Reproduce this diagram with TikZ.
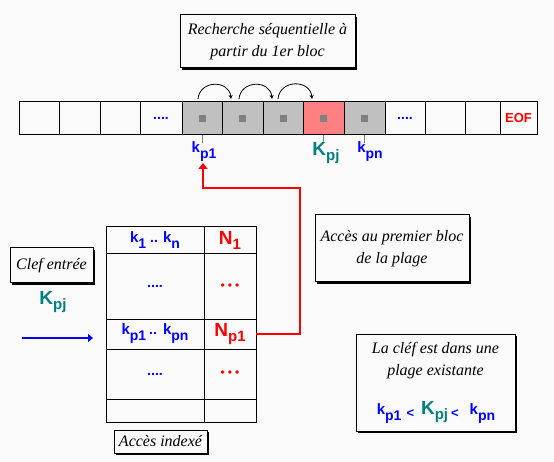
\documentclass[tikz,border=0pt]{standalone}
\usepackage{fontspec}
\setmainfont{Liberation Serif}
\newfontfamily\lbsans{Liberation Sans}
\usetikzlibrary{arrows.meta,shadows}
\definecolor{bg}{HTML}{FAFAFA}
\definecolor{cellgrey}{HTML}{C0C0C0}
\definecolor{dotgrey}{HTML}{808080}
\definecolor{salmon}{HTML}{FF8080}
\definecolor{kblue}{HTML}{0000FF}
\definecolor{kteal}{HTML}{008080}
\definecolor{kred}{HTML}{FF0000}
\newcommand{\kk}[2]{{\lbsans\bfseries\fontsize{15}{15}\selectfont #1\raisebox{-6pt}{\fontsize{14}{14}\selectfont #2}}}
\newcommand{\KK}[2]{{\lbsans\bfseries\fontsize{19}{19}\selectfont #1\raisebox{-5pt}{\fontsize{15}{15}\selectfont #2}}}
\newcommand{\dd}[1]{\lbsans\bfseries\fontsize{#1}{#1}\selectfont}
\newcommand{\lt}{\raisebox{-3pt}{\lbsans\bfseries\fontsize{13}{13}\selectfont <}}
\newcommand{\rdots}{{\lbsans\fontsize{12}{12}\selectfont •\hspace{3pt}•\hspace{3pt}•}}
\tikzset{
  cell/.style={draw, line width=1pt, minimum height=33pt, inner sep=0pt, outer sep=0pt},
  tcell/.style={draw, line width=1pt, inner sep=0pt, outer sep=0pt},
  sqmark/.style={fill=dotgrey, minimum size=7pt, inner sep=0pt},
  tick/.style={draw=dotgrey, line width=1pt},
  scripttext/.style={font=\itshape\fontsize{16}{22}\selectfont},
  shbox/.style={draw, line width=1pt, fill=bg, inner sep=2pt, align=center, scripttext,
    drop shadow={shadow xshift=2pt, shadow yshift=-2pt, fill=black, opacity=1}},
  hop/.style={line width=0.8pt, -{Stealth[length=4pt,width=4pt]}},
  redarrow/.style={draw=kred, line width=2.5pt, -{Triangle[length=6pt,width=9pt]}},
  bluearrow/.style={draw=kblue, line width=2.5pt, -{Triangle[length=5pt,width=8pt]}},
}
\begin{document}
\begin{tikzpicture}[x=1pt,y=-1pt]
\fill[bg] (0,0) rectangle (554,462);
\useasboundingbox (0,0) rectangle (554,462);
% strip of blocks
\node[cell, minimum width=40pt] (c1) at (39,118.5) {};
\node[cell, minimum width=41pt] (c2) at (79.5,118.5) {};
\node[cell, minimum width=40pt] (c3) at (120,118.5) {};
\node[cell, minimum width=42pt, text=kblue, font=\lbsans\bfseries\fontsize{14}{14}\selectfont] (c4) at (161,118.5) {....};
\node[cell, minimum width=40pt, fill=cellgrey] (c5) at (202,118.5) {};
\node[cell, minimum width=41pt, fill=cellgrey] (c6) at (242.5,118.5) {};
\node[cell, minimum width=40pt, fill=cellgrey] (c7) at (283,118.5) {};
\node[cell, minimum width=41pt, fill=salmon] (c8) at (323.5,118.5) {};
\node[cell, minimum width=41pt, fill=cellgrey] (c9) at (364.5,118.5) {};
\node[cell, minimum width=40pt, text=kblue, font=\lbsans\bfseries\fontsize{14}{14}\selectfont] (c10) at (405,118.5) {....};
\node[cell, minimum width=40pt] (c11) at (445,118.5) {};
\node[cell, minimum width=35pt] (c12) at (482.5,118.5) {};
\node[cell, minimum width=37pt, text=kred, font=\lbsans\bfseries\fontsize{13}{13}\selectfont] (c13) at (518.5,118.5) {EOF};
\foreach \c in {c5,c6,c7,c8,c9} \node[sqmark] at (\c) {};
% ticks
\foreach \c in {c5,c8,c9} \draw[tick] (\c.south) -- ++(0,8);
% labels under strip
\node[text=kblue, inner sep=0pt] (lkp1) at (204,152) {\kk{k}{p1}};
\node[text=kteal, inner sep=0pt] (lKpj) at (326,153) {\KK{K}{pj}};
\node[text=kblue, inner sep=0pt] (lkpn) at (370,152) {\kk{k}{pn}};
% hops
\coordinate (h1a) at (198,99); \coordinate (h1b) at (231,99);
\coordinate (h2a) at (239,99); \coordinate (h2b) at (272,99);
\coordinate (h3a) at (278,99); \coordinate (h3b) at (312,99);
\draw[hop] (h1a) to[out=85,in=95,looseness=1.5] (h1b);
\draw[hop] (h2a) to[out=85,in=95,looseness=1.5] (h2b);
\draw[hop] (h3a) to[out=85,in=95,looseness=1.5] (h3b);
% top box
\node[shbox, minimum width=175pt, minimum height=53pt] (top) at (267.5,41.5)
  {Recherche séquentielle à\\partir du 1er bloc};
% table
\node[tcell, minimum width=98pt, minimum height=27pt, text=kblue] (t11) at (155,240.5) {\kk{k}{1}\hspace{4pt}{\dd{14}..}\hspace{5pt}\kk{k}{n}};
\node[tcell, minimum width=52pt, minimum height=27pt, text=kred] (t12) at (230,240.5) {\KK{N}{1}};
\node[tcell, minimum width=98pt, minimum height=65pt, text=kblue] (t21) at (155,286.5) {{\dd{14}....}};
\node[tcell, minimum width=52pt, minimum height=65pt, text=kred] (t22) at (230,286.5) {\rdots};
\node[tcell, minimum width=98pt, minimum height=30pt, text=kblue] (t31) at (155,334) {\kk{k}{p1}\hspace{3pt}{\dd{14}..}\hspace{6pt}\kk{k}{pn}};
\node[tcell, minimum width=52pt, minimum height=30pt, text=kred] (t32) at (230,334) {\KK{N}{p1}};
\node[tcell, minimum width=98pt, minimum height=50pt, text=kblue] (t41) at (155,374) {{\dd{14}....}};
\node[tcell, minimum width=52pt, minimum height=50pt, text=kred] (t42) at (230,374) {\rdots};
\node[tcell, minimum width=98pt, minimum height=23pt] (t51) at (155,410.5) {};
\node[tcell, minimum width=52pt, minimum height=23pt] (t52) at (230,410.5) {};
% left side
\node[shbox, minimum width=83pt, minimum height=35pt] (clef) at (51.5,265.5) {Clef entrée};
\node[text=kteal, inner sep=0pt] (kin) at (53,302) {\KK{K}{pj}};
\coordinate (ina) at (22,338); \coordinate (inb) at (93,338);
\draw[bluearrow] (ina) -- (inb);
\node[shbox, minimum width=93pt, minimum height=23pt] (acc) at (160.5,441.5) {Accès indexé};
% right boxes
\node[shbox, minimum width=154pt, minimum height=67pt] (prem) at (392,248.5) {Accès au premier bloc\\de la plage};
\node[shbox, minimum width=159pt, minimum height=97pt] (cle) at (435.5,382.5) {};
\node[scripttext, align=center] (cletxt) at (435.5,361) {La cléf est dans une\\plage existante};
\node[inner sep=0pt] (form) at (436,412) {\textcolor{kblue}{\kk{k}{p1}\hspace{5pt}\lt}\hspace{7pt}\textcolor{kteal}{\KK{K}{pj}}\hspace{3pt}\textcolor{kblue}{\lt\hspace{11pt}\kk{k}{pn}}};
% red connector
\coordinate (r1) at (300,188);
\coordinate (rtip) at (203,163);
\draw[redarrow] (t32.east) -| (r1) -| (rtip);
\end{tikzpicture}
\end{document}
